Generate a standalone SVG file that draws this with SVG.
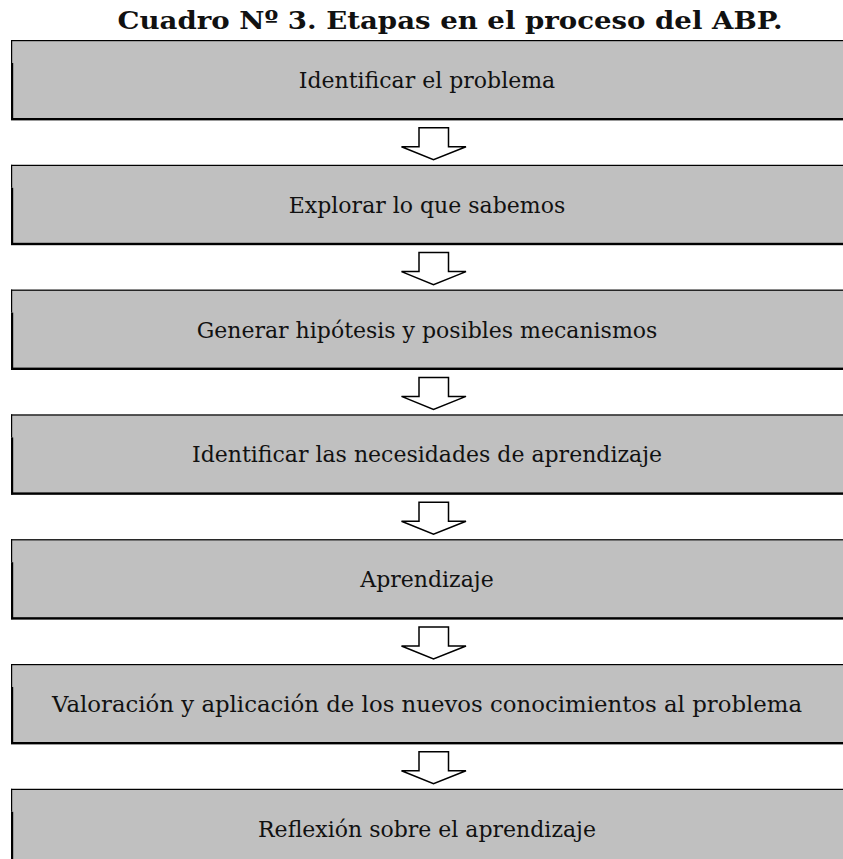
<svg xmlns="http://www.w3.org/2000/svg" width="843" height="859" viewBox="0 0 843 859">
<style>
.bg{fill:#c0c0c0}
.bk{fill:#000}
.lbl{font-family:"DejaVu Serif","Liberation Serif",serif;font-size:22px;fill:#111;text-anchor:middle}
.ttl{font-family:"DejaVu Serif","Liberation Serif",serif;font-size:25px;font-weight:bold;fill:#111;text-anchor:middle}
.arr{fill:#fff;stroke:#000;stroke-width:1.5;stroke-linejoin:miter}
</style>
<defs>
<g id="box">
<rect class="bg" x="11" y="0" width="832" height="80"/>
<rect class="bk" x="11" y="0" width="832" height="1.2"/>
<rect class="bk" x="11" y="0" width="1.2" height="23"/>
<rect class="bk" x="11" y="23" width="2.2" height="57"/>
<rect class="bk" x="11" y="78" width="832" height="2.4"/>
</g>
<path id="arrow" class="arr" d="M419,-37 H448.5 V-18 H466 L433.5,-5 L401.5,-18 H419 Z"/>
</defs>
<text class="ttl" x="450" y="29" textLength="665" lengthAdjust="spacingAndGlyphs">Cuadro Nº 3. Etapas en el proceso del ABP.</text>
<g id="n1" transform="translate(0,40)"><use href="#box"/><text class="lbl" x="427" y="48">Identificar el problema</text></g>
<g id="n2" transform="translate(0,164.8)"><use href="#box"/><text class="lbl" x="427" y="48">Explorar lo que sabemos</text></g>
<g id="n3" transform="translate(0,289.6)"><use href="#box"/><text class="lbl" x="427" y="48">Generar hipótesis y posibles mecanismos</text></g>
<g id="n4" transform="translate(0,414.4)"><use href="#box"/><text class="lbl" x="427" y="48">Identificar las necesidades de aprendizaje</text></g>
<g id="n5" transform="translate(0,539.2)"><use href="#box"/><text class="lbl" x="427" y="48">Aprendizaje</text></g>
<g id="n6" transform="translate(0,664)"><use href="#box"/><text class="lbl" x="427" y="48" textLength="750" lengthAdjust="spacingAndGlyphs">Valoración y aplicación de los nuevos conocimientos al problema</text></g>
<g id="n7" transform="translate(0,788.8)"><use href="#box"/><text class="lbl" x="427" y="48">Reflexión sobre el aprendizaje</text></g>
<g id="connectors">
<use href="#arrow" transform="translate(0,164.8)"/>
<use href="#arrow" transform="translate(0,289.6)"/>
<use href="#arrow" transform="translate(0,414.4)"/>
<use href="#arrow" transform="translate(0,539.2)"/>
<use href="#arrow" transform="translate(0,664)"/>
<use href="#arrow" transform="translate(0,788.8)"/>
</g>
</svg>
